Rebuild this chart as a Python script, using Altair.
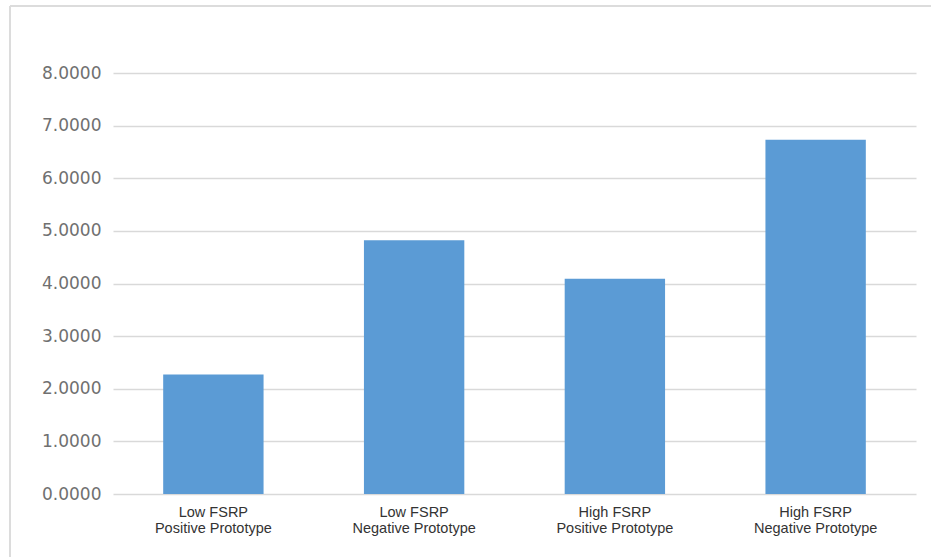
import altair as alt
import pandas as pd

categories = [
    "Low FSRP|Positive Prototype",
    "Low FSRP|Negative Prototype",
    "High FSRP|Positive Prototype",
    "High FSRP|Negative Prototype",
]
values = [2.27, 4.82, 4.09, 6.73]
y_ticks = [0, 1, 2, 3, 4, 5, 6, 7, 8]

df = pd.DataFrame({"cat": categories, "val": values})

bars = alt.Chart(df).mark_bar(color="#5B9BD5").encode(
    x=alt.X(
        "cat:N",
        sort=None,
        title=None,
        scale=alt.Scale(paddingInner=0.5, paddingOuter=0.25),
        axis=alt.Axis(
            labelExpr="split(datum.label, '|')",
            labelAngle=0,
            domain=False,
            ticks=False,
            labelPadding=11,
            labelFont="Liberation Sans",
            labelFontSize=14.5,
            labelLineHeight=16,
            labelColor="#333333",
            grid=False,
        ),
    ),
    y=alt.Y(
        "val:Q",
        title=None,
        scale=alt.Scale(domain=[0, 8], nice=False, zero=True),
        axis=alt.Axis(
            values=y_ticks,
            format=".4f",
            domain=False,
            ticks=False,
            labelPadding=12,
            labelFont="DejaVu Sans",
            labelFontSize=17,
            labelColor="#707070",
            gridColor="#d9d9d9",
            gridWidth=1.5,
        ),
    ),
)

frame_df = pd.DataFrame({"a": [0]})
frame_v = alt.Chart(frame_df).mark_rule(color="#dcdcdc", strokeWidth=2).encode(
    x=alt.value(-103), y=alt.value(-67), y2=alt.value(490)
)
frame_h = alt.Chart(frame_df).mark_rule(color="#dcdcdc", strokeWidth=2).encode(
    x=alt.value(-103), x2=alt.value(818), y=alt.value(-67)
)

chart = (
    alt.layer(bars, frame_v, frame_h)
    .properties(
        width=803,
        height=421,
        autosize=alt.AutoSizeParams(type="none"),
        padding={"left": 113, "top": 73, "right": 15, "bottom": 63},
        background="white",
    )
    .configure_view(stroke=None)
)

chart.save("out.html", embed_options={"renderer": "svg", "actions": False})
